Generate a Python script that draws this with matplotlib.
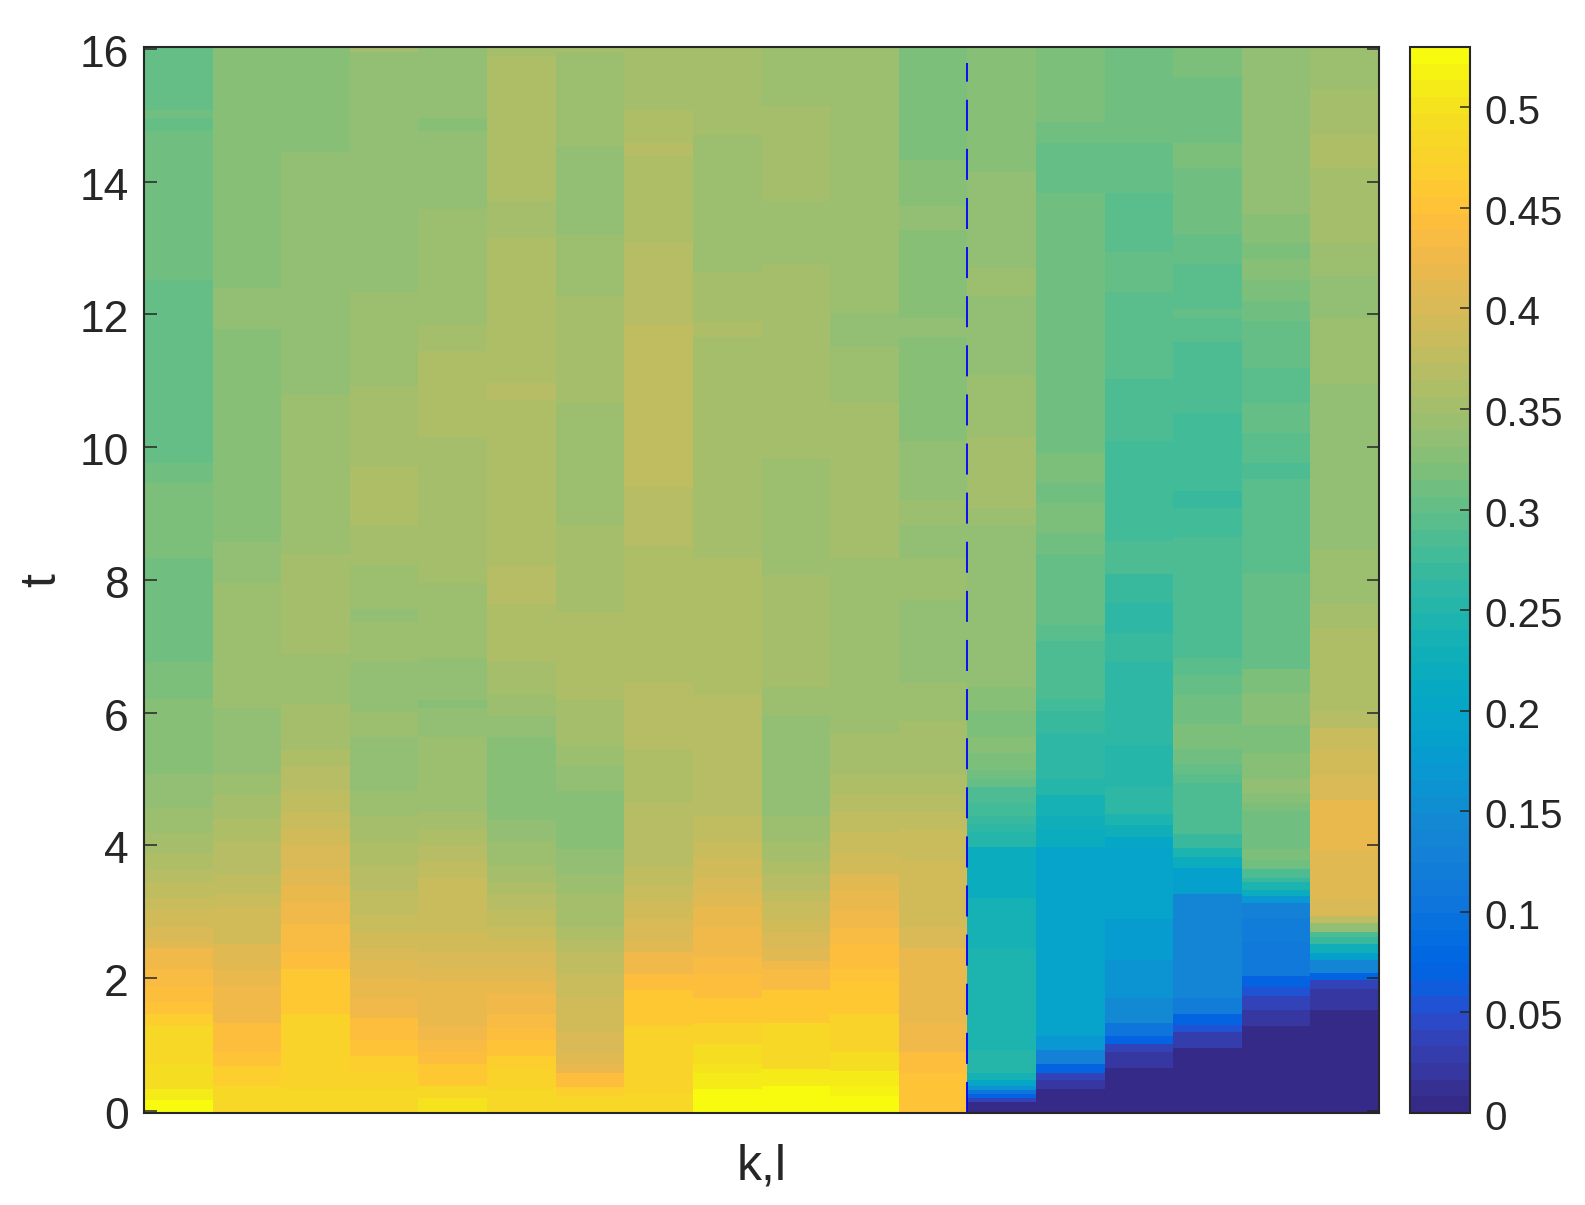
import matplotlib
matplotlib.use('Agg')
import matplotlib.pyplot as plt
from matplotlib.colors import ListedColormap, Normalize
from matplotlib.transforms import ScaledTranslation

plt.rcParams['font.family'] = ['Liberation Sans', 'DejaVu Sans']

# === parula, 64 levels ===
parula = [
    [0.2081, 0.1663, 0.5292], [0.2116, 0.1898, 0.5777], [0.2123, 0.2138, 0.6270], [0.2081, 0.2386, 0.6771],
    [0.1959, 0.2645, 0.7279], [0.1707, 0.2919, 0.7792], [0.1253, 0.3242, 0.8303], [0.0591, 0.3598, 0.8683],
    [0.0117, 0.3875, 0.8820], [0.0060, 0.4086, 0.8828], [0.0165, 0.4266, 0.8786], [0.0329, 0.4430, 0.8720],
    [0.0498, 0.4586, 0.8641], [0.0629, 0.4737, 0.8554], [0.0723, 0.4887, 0.8467], [0.0779, 0.5040, 0.8384],
    [0.0793, 0.5200, 0.8312], [0.0749, 0.5375, 0.8263], [0.0641, 0.5570, 0.8240], [0.0488, 0.5772, 0.8228],
    [0.0343, 0.5966, 0.8199], [0.0265, 0.6137, 0.8135], [0.0239, 0.6287, 0.8038], [0.0231, 0.6418, 0.7913],
    [0.0228, 0.6535, 0.7768], [0.0267, 0.6642, 0.7607], [0.0384, 0.6743, 0.7436], [0.0590, 0.6838, 0.7254],
    [0.0843, 0.6928, 0.7062], [0.1133, 0.7015, 0.6859], [0.1453, 0.7098, 0.6646], [0.1801, 0.7177, 0.6424],
    [0.2178, 0.7250, 0.6193], [0.2586, 0.7317, 0.5954], [0.3022, 0.7376, 0.5712], [0.3482, 0.7424, 0.5473],
    [0.3953, 0.7459, 0.5244], [0.4420, 0.7481, 0.5033], [0.4871, 0.7491, 0.4840], [0.5300, 0.7491, 0.4661],
    [0.5709, 0.7485, 0.4494], [0.6099, 0.7473, 0.4337], [0.6473, 0.7456, 0.4188], [0.6834, 0.7435, 0.4044],
    [0.7184, 0.7411, 0.3905], [0.7525, 0.7384, 0.3768], [0.7858, 0.7356, 0.3633], [0.8185, 0.7327, 0.3498],
    [0.8507, 0.7299, 0.3360], [0.8824, 0.7274, 0.3217], [0.9139, 0.7258, 0.3063], [0.9450, 0.7261, 0.2886],
    [0.9739, 0.7314, 0.2666], [0.9938, 0.7455, 0.2403], [0.9990, 0.7653, 0.2164], [0.9955, 0.7861, 0.1967],
    [0.9880, 0.8066, 0.1794], [0.9789, 0.8271, 0.1633], [0.9697, 0.8481, 0.1475], [0.9626, 0.8705, 0.1309],
    [0.9589, 0.8949, 0.1132], [0.9598, 0.9218, 0.0948], [0.9661, 0.9514, 0.0755], [0.9763, 0.9831, 0.0538],
]

# === data: each column is a stack of runs from t=16 down, cN_t = lower edge of a run, cN_v = its value ===
c0_t = [15.06, 14.94, 14.74, 12.51, 9.76, 9.45, 8.33, 6.77, 6.21, 5.09, 4.58, 4.21, 3.90, 3.66, 3.47, 3.22, 3.04, 2.79, 2.59, 2.47, 2.16, 1.91, 1.66, 1.49, 1.30, 0.74, 0.36, 0.20, 0]
c0_v = [.302, .31, .302, .31, .302, .31, .319, .31, .319, .327, .335, .344, .352, .36, .368, .377, .385, .393, .402, .41, .427, .435, .443, .451, .468, .485, .493, .51, .526]

c1_t = [12.39, 11.76, 8.57, 7.95, 6.08, 5.09, 4.77, 4.41, 4.09, 3.59, 3.28, 3.09, 2.96, 2.53, 2.16, 1.91, 1.66, 1.35, 0.92, 0.71, 0.41, 0]
c1_v = [.327, .335, .327, .335, .344, .335, .344, .352, .36, .368, .377, .385, .393, .397, .41, .418, .423, .427, .443, .451, .468, .485]

c2_t = [14.43, 10.77, 8.39, 6.89, 6.14, 5.45, 5.21, 4.84, 4.52, 4.27, 4.03, 3.66, 3.40, 3.16, 2.84, 2.41, 2.16, 1.49, 0.36, 0]
c2_v = [.327, .335, .344, .352, .344, .352, .36, .368, .377, .385, .393, .402, .41, .418, .427, .435, .443, .46, .48, .485]

c3_t = [15.93, 12.32, 10.89, 9.70, 8.83, 8.22, 7.57, 7.38, 6.77, 6.02, 5.65, 4.84, 4.46, 4.09, 3.72, 3.35, 2.97, 2.72, 2.47, 2.28, 2.03, 1.72, 1.42, 1.10, 0.85, 0.60, 0.36, 0]
c3_v = [.352, .335, .344, .352, .36, .352, .344, .335, .344, .335, .344, .335, .344, .352, .36, .368, .377, .385, .393, .402, .41, .418, .427, .443, .451, .468, .476, .485]

c4_t = [14.94, 14.74, 13.57, 11.82, 11.44, 10.14, 7.95, 6.83, 6.20, 6.08, 5.65, 4.52, 4.27, 4.02, 3.78, 3.53, 2.72, 2.41, 2.16, 1.97, 1.30, 1.10, 0.92, 0.74, 0.41, 0.22, 0]
c4_v = [.335, .327, .335, .344, .352, .36, .352, .344, .335, .327, .335, .344, .352, .36, .368, .377, .385, .393, .402, .41, .418, .427, .435, .443, .46, .485, .501]

c5_t = [15.87, 13.69, 13.13, 10.95, 10.70, 8.21, 7.64, 6.77, 6.27, 5.96, 5.65, 4.40, 4.09, 3.72, 3.47, 3.28, 3.04, 2.79, 2.59, 2.41, 2.16, 1.97, 1.78, 1.49, 1.27, 1.10, 0.85, 0.66, 0.36, 0]
c5_v = [.352, .36, .352, .36, .368, .36, .368, .36, .352, .344, .335, .327, .335, .344, .352, .36, .368, .377, .385, .393, .402, .41, .418, .427, .435, .443, .451, .468, .476, .485]

c6_t = [15.93, 14.50, 13.18, 12.26, 10.65, 8.83, 7.52, 6.20, 5.52, 5.21, 4.84, 3.96, 3.59, 3.28, 2.79, 2.59, 2.41, 2.08, 1.72, 1.22, 0.91, 0.74, 0.60, 0.39, 0.25, 0]
c6_v = [.352, .344, .335, .344, .352, .344, .352, .36, .352, .344, .335, .327, .335, .344, .352, .36, .368, .377, .385, .393, .402, .41, .418, .443, .468, .485]

c7_t = [15.06, 14.56, 14.37, 13.06, 11.83, 9.39, 8.51, 6.46, 5.46, 4.65, 3.71, 3.40, 3.16, 2.91, 2.59, 2.41, 2.09, 1.85, 1.30, 0.28, 0]
c7_v = [.352, .36, .368, .36, .368, .377, .368, .36, .368, .36, .366, .377, .385, .393, .402, .41, .423, .443, .46, .48, .485]

c8_t = [14.68, 12.62, 11.88, 11.64, 8.33, 6.27, 4.46, 4.09, 3.83, 3.52, 3.28, 3.09, 2.79, 2.34, 2.09, 1.72, 1.35, 1.03, 0.74, 0.60, 0.36, 0]
c8_v = [.352, .344, .352, .36, .352, .36, .368, .377, .385, .393, .402, .41, .418, .427, .435, .443, .46, .476, .493, .501, .51, .526]

c9_t = [15.12, 13.69, 12.75, 9.83, 8.08, 6.39, 5.96, 4.46, 4.09, 3.78, 3.59, 3.35, 3.16, 2.91, 2.72, 2.47, 2.28, 2.16, 1.85, 1.35, 0.66, 0.41, 0]
c9_v = [.344, .352, .344, .352, .344, .352, .344, .335, .344, .352, .36, .368, .377, .385, .393, .402, .41, .427, .435, .46, .485, .51, .526]

c10_t = [12.01, 11.50, 10.65, 8.33, 5.71, 5.08, 4.77, 4.52, 4.22, 3.90, 3.58, 3.36, 3.04, 2.77, 2.53, 2.16, 1.97, 1.49, 0.92, 0.63, 0.41, 0.25, 0]
c10_v = [.344, .335, .344, .352, .344, .352, .36, .368, .377, .385, .393, .41, .418, .427, .435, .443, .451, .46, .476, .493, .51, .518, .526]

c11_t = [14.31, 13.62, 13.26, 11.93, 11.64, 10.08, 9.20, 8.83, 8.33, 7.70, 6.45, 5.88, 5.08, 4.77, 4.52, 4.27, 3.78, 2.79, 2.47, 1.35, 0.91, 0.60, 0]
c11_v = [.319, .327, .335, .327, .335, .327, .335, .344, .335, .344, .335, .344, .352, .36, .368, .377, .385, .393, .402, .418, .427, .439, .451]

c12_t = [14.12, 12.69, 12.26, 11.08, 10.14, 9.08, 8.83, 6.39, 6.03, 5.65, 5.40, 5.15, 5.02, 4.89, 4.65, 4.46, 4.34, 4.22, 4.00, 3.23, 2.48, 0.95, 0.60, 0.49, 0.41, 0.35, 0.29, 0.22, 0.16, 0]
c12_v = [.327, .335, .344, .335, .344, .352, .344, .335, .327, .319, .327, .319, .31, .302, .286, .277, .269, .26, .252, .219, .236, .244, .252, .236, .203, .161, .107, .07, .037, .004]

c13_t = [14.87, 14.56, 13.81, 9.90, 9.45, 9.15, 8.70, 8.39, 7.33, 7.08, 6.21, 6.03, 5.71, 5.35, 5.02, 4.77, 4.46, 4.27, 4.00, 1.16, 0.95, 0.74, 0.60, 0.49, 0.36, 0]
c13_v = [.319, .31, .302, .31, .319, .31, .319, .31, .302, .294, .286, .277, .269, .26, .26, .252, .236, .228, .219, .195, .17, .128, .07, .037, .02, .004]

c14_t = [14.56, 13.81, 12.93, 12.32, 11.01, 10.08, 8.58, 8.09, 7.65, 7.21, 6.77, 5.53, 4.89, 4.49, 4.32, 4.14, 3.98, 2.91, 2.29, 1.73, 1.35, 1.16, 1.03, 0.91, 0.68, 0]
c14_v = [.31, .302, .294, .302, .294, .286, .277, .286, .269, .26, .269, .26, .252, .26, .244, .228, .203, .195, .178, .161, .145, .107, .07, .037, .02, .004]

c15_t = [15.55, 14.56, 14.19, 13.19, 12.75, 12.07, 11.93, 11.57, 10.51, 9.33, 9.08, 8.65, 6.83, 6.58, 6.27, 5.84, 5.47, 5.24, 5.09, 4.96, 4.19, 3.98, 3.84, 3.68, 3.28, 1.73, 1.49, 1.32, 1.22, 0.98, 0]
c15_v = [.319, .31, .319, .31, .302, .294, .302, .294, .286, .277, .265, .277, .286, .294, .302, .31, .319, .31, .302, .294, .286, .269, .244, .219, .186, .14, .12, .07, .05, .03, .004]

c16_t = [13.49, 13.06, 12.82, 12.51, 12.19, 11.88, 11.18, 10.65, 10.20, 9.76, 9.52, 8.10, 7.41, 6.66, 6.31, 5.83, 5.40, 5.02, 4.81, 4.65, 4.54, 3.96, 3.80, 3.66, 3.52, 3.47, 3.34, 3.25, 3.15, 2.93, 2.56, 2.05, 1.89, 1.75, 1.54, 1.30, 0]
c16_v = [.335, .327, .319, .327, .319, .31, .302, .294, .302, .294, .286, .294, .302, .302, .319, .327, .319, .327, .335, .327, .319, .31, .319, .31, .286, .269, .244, .219, .17, .128, .12, .112, .07, .05, .04, .02, .004]

c17_t = [15.37, 14.68, 14.19, 13.06, 12.56, 11.93, 10.94, 8.47, 7.64, 7.28, 6.03, 5.78, 5.45, 5.08, 4.70, 4.33, 3.95, 3.20, 2.96, 2.85, 2.72, 2.64, 2.53, 2.40, 2.29, 2.10, 1.99, 1.86, 1.54, 0]
c17_v = [.344, .352, .36, .352, .344, .335, .344, .335, .344, .352, .36, .368, .385, .393, .402, .418, .418, .41, .402, .377, .335, .286, .269, .228, .186, .14, .07, .04, .02, .004]

column_t = [c0_t, c1_t, c2_t, c3_t, c4_t, c5_t, c6_t, c7_t, c8_t, c9_t, c10_t, c11_t, c12_t, c13_t, c14_t, c15_t, c16_t, c17_t]
column_v = [c0_v, c1_v, c2_v, c3_v, c4_v, c5_v, c6_v, c7_v, c8_v, c9_v, c10_v, c11_v, c12_v, c13_v, c14_v, c15_v, c16_v, c17_v]

t_ticks = [0, 2, 4, 6, 8, 10, 12, 14, 16]
cbar_ticks = [0, 0.05, 0.1, 0.15, 0.2, 0.25, 0.3, 0.35, 0.4, 0.45, 0.5]
cbar_labels = ['0', '0.05', '0.1', '0.15', '0.2', '0.25', '0.3', '0.35', '0.4', '0.45', '0.5']
split_column = 12   # boundary between the two groups
split_top = 15.76

# y limits sit slightly outside 0..16, run edges were read against the frame
t_low, t_high = -0.036, 16.03


def frame_to_t(t):
    return t_low + t * (t_high - t_low) / 16


# === figure ===
W, H = 1585, 1205
DARK = '#262626'
fig = plt.figure(figsize=(W / 100, H / 100), dpi=100)
ax = fig.add_axes([144 / W, 1 - 1113 / H, (1379 - 144) / W, (1113 - 47) / H])

cmap = ListedColormap(parula)
norm = Normalize(vmin=0, vmax=0.53)

for i, (lows, vals) in enumerate(zip(column_t, column_v)):
    edges = [frame_to_t(t) for t in [16] + lows]
    cells = [[v] for v in vals]
    mesh = ax.pcolormesh([i, i + 1], edges, cells, cmap=cmap, norm=norm, shading='flat', antialiased=False, linewidth=0)

ax.plot([split_column, split_column], [frame_to_t(0), frame_to_t(split_top)], color='#0000ff', linewidth=1.3,
        linestyle=(0, (17.2, 10)), dash_capstyle='butt')

ax.set_xlim(0, 18)
ax.set_ylim(t_low, t_high)
ax.set_xticks([])
ax.set_yticks(t_ticks)
ax.tick_params(axis='y', direction='in', left=True, right=True, length=9, width=1.1, color=DARK, labelcolor=DARK, labelsize=32, pad=11)
for s in ax.spines.values():
    s.set_linewidth(1.5)
    s.set_color(DARK)
ax.set_xlabel('k,l', fontsize=36, color=DARK, labelpad=22)
ax.set_ylabel('t', fontsize=36, color=DARK, labelpad=10)

# === colorbar ===
cax = fig.add_axes([1410 / W, 1 - 1113 / H, (1470 - 1410) / W, (1113 - 47) / H])
cb = fig.colorbar(mesh, cax=cax, ticks=cbar_ticks)
cb.ax.set_yticklabels(cbar_labels)
cb.ax.tick_params(direction='in', length=7, width=1.1, color=DARK, labelcolor=DARK, labelsize=29, pad=10)
cb.outline.set_linewidth(1.5)
cb.outline.set_edgecolor(DARK)

# tick labels sit a little lower in the original
shift = ScaledTranslation(0, -2 / 100, fig.dpi_scale_trans)
for lab in ax.get_yticklabels() + cb.ax.get_yticklabels():
    lab.set_transform(lab.get_transform() + shift)

fig.savefig('out.png', dpi=100)
